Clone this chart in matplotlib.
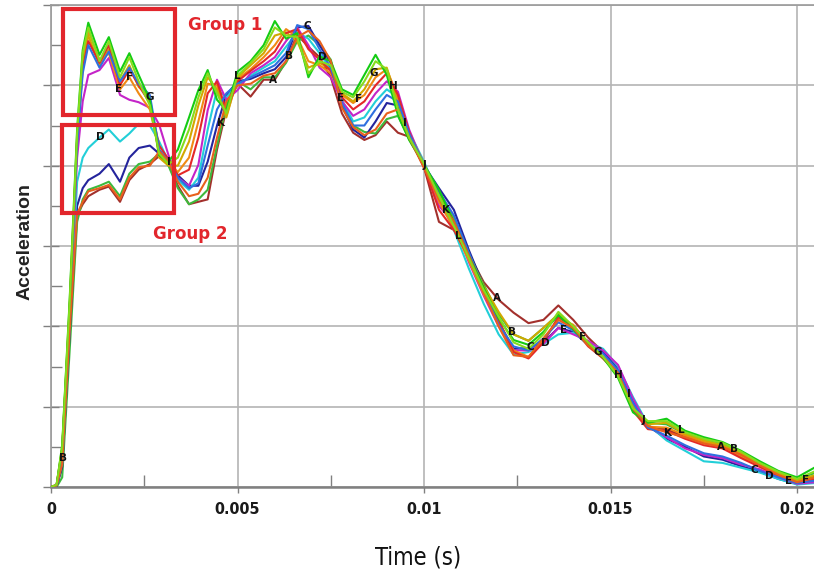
import matplotlib
matplotlib.use("Agg")
import matplotlib.pyplot as plt
import numpy as np
from matplotlib.patches import Rectangle
from matplotlib import font_manager

# ---------------------------------------------------------------- data
# sample times in milliseconds
time_ms = [0, 0.15, 0.3, 0.5, 0.7, 0.85, 1.0, 1.3, 1.55, 1.85, 2.1, 2.35, 2.65,
           2.9, 3.15, 3.4, 3.7, 3.95, 4.2, 4.45, 4.7,
           5.0, 5.35, 5.7, 6.0, 6.3, 6.6, 6.9, 7.2,
           7.5, 7.8, 8.1, 8.4, 8.7, 9.0, 9.3, 9.6,
           10.0, 10.4, 10.8, 11.2, 11.6,
           12.0, 12.4, 12.8, 13.2, 13.6, 14.0, 14.4, 14.8,
           15.2, 15.6, 16.0, 16.5, 17.0, 17.5, 18.0, 18.5, 19.0, 19.5, 20.0, 20.5]

accel_A = [0, 0.01, 0.25, 1.88, 3.38, 3.52, 3.62, 3.70, 3.74, 3.55, 3.82, 3.95, 4.02,
           4.12, 4.02, 3.75, 3.52, 3.55, 3.58, 4.20, 4.70,
           5.02, 4.86, 5.07, 5.07, 5.30, 5.63, 5.48, 5.35,
           5.10, 4.65, 4.41, 4.32, 4.38, 4.55, 4.41, 4.36,
           3.98, 3.30, 3.20, 2.90, 2.55,
           2.33, 2.17, 2.04, 2.08, 2.26, 2.08, 1.86, 1.68,
           1.46, 1.00, 0.74, 0.72, 0.62, 0.55, 0.50, 0.40, 0.28, 0.17, 0.08, 0.14]
accel_B = [0, 0.0, 0.12, 1.70, 3.30, 3.58, 3.70, 3.75, 3.80, 3.62, 3.90, 4.02, 4.05,
           4.15, 4.00, 3.72, 3.52, 3.58, 3.70, 4.25, 4.75,
           5.05, 4.95, 5.10, 5.10, 5.28, 5.55, 5.62, 5.50,
           5.32, 4.78, 4.50, 4.42, 4.40, 4.58, 4.62, 4.33,
           4.00, 3.62, 3.35, 2.92, 2.52,
           2.15, 1.90, 1.82, 1.98, 2.15, 2.00, 1.80, 1.62,
           1.40, 0.96, 0.80, 0.78, 0.66, 0.60, 0.54, 0.43, 0.29, 0.18, 0.09, 0.18]
accel_C = [0, 0.01, 0.25, 1.90, 3.50, 3.72, 3.82, 3.90, 4.02, 3.80, 4.10, 4.22, 4.25,
           4.15, 4.07, 3.88, 3.75, 3.75, 4.05, 4.50, 4.88,
           5.05, 5.08, 5.15, 5.20, 5.35, 5.72, 5.74, 5.50,
           5.28, 4.75, 4.45, 4.35, 4.55, 4.78, 4.75, 4.38,
           4.00, 3.72, 3.45, 2.95, 2.50,
           2.05, 1.72, 1.73, 1.80, 1.98, 1.93, 1.77, 1.68,
           1.48, 1.08, 0.76, 0.60, 0.50, 0.38, 0.34, 0.26, 0.19, 0.10, 0.04, 0.07]
accel_D = [0, 0.02, 0.30, 2.00, 3.80, 4.10, 4.22, 4.35, 4.45, 4.30, 4.40, 4.52, 4.50,
           4.30, 4.05, 3.82, 3.70, 3.85, 4.45, 4.95, 4.85,
           5.00, 5.12, 5.22, 5.30, 5.48, 5.66, 5.58, 5.40,
           5.20, 4.82, 4.55, 4.60, 4.80, 4.95, 4.85, 4.42,
           4.05, 3.60, 3.20, 2.72, 2.28,
           1.90, 1.65, 1.68, 1.78, 1.90, 1.92, 1.80, 1.72,
           1.50, 1.12, 0.78, 0.58, 0.45, 0.32, 0.30, 0.24, 0.18, 0.10, 0.03, 0.05]
accel_E = [0, 0.02, 0.40, 2.10, 4.10, 4.80, 5.13, 5.19, 5.34, 4.88, 4.82, 4.79, 4.72,
           4.51, 4.13, 3.85, 3.75, 4.01, 4.69, 5.07, 4.82,
           4.94, 5.15, 5.25, 5.35, 5.55, 5.72, 5.50, 5.22,
           5.10, 4.80, 4.62, 4.70, 4.90, 5.05, 4.92, 4.45,
           4.00, 3.50, 3.28, 2.80, 2.38,
           2.00, 1.70, 1.70, 1.78, 1.98, 1.90, 1.82, 1.70,
           1.52, 1.10, 0.76, 0.62, 0.48, 0.40, 0.36, 0.28, 0.22, 0.12, 0.04, 0.06]
accel_F = [0, 0.02, 0.45, 2.20, 4.30, 5.25, 5.68, 5.32, 5.40, 4.95, 5.10, 4.90, 4.70,
           4.20, 4.05, 3.92, 4.10, 4.55, 5.02, 5.00, 4.62,
           5.08, 5.20, 5.35, 5.50, 5.70, 5.60, 5.30, 5.25,
           5.15, 4.88, 4.78, 4.88, 5.10, 5.20, 4.85, 4.40,
           4.03, 3.55, 3.22, 2.82, 2.40,
           2.05, 1.70, 1.62, 1.82, 2.10, 2.02, 1.78, 1.60,
           1.42, 1.02, 0.75, 0.74, 0.64, 0.56, 0.50, 0.38, 0.26, 0.16, 0.06, 0.12]
accel_G = [0, 0.02, 0.48, 2.25, 4.35, 5.30, 5.62, 5.25, 5.45, 5.05, 5.25, 4.98, 4.85,
           4.10, 4.00, 4.00, 4.30, 4.75, 5.10, 4.95, 4.60,
           5.10, 5.25, 5.40, 5.62, 5.66, 5.55, 5.22, 5.28,
           5.20, 4.90, 4.80, 4.95, 5.20, 5.22, 4.78, 4.38,
           4.00, 3.66, 3.32, 2.90, 2.50,
           2.18, 1.90, 1.82, 1.98, 2.15, 2.00, 1.80, 1.62,
           1.40, 1.00, 0.78, 0.80, 0.66, 0.58, 0.52, 0.42, 0.28, 0.18, 0.08, 0.15]
accel_H = [0, 0.03, 0.47, 2.22, 4.32, 5.20, 5.55, 5.28, 5.50, 5.00, 5.20, 5.00, 4.78,
           4.25, 4.08, 3.88, 3.95, 4.35, 4.90, 5.05, 4.68,
           5.05, 5.18, 5.30, 5.42, 5.65, 5.70, 5.45, 5.32,
           5.18, 4.85, 4.70, 4.80, 5.00, 5.15, 4.88, 4.42,
           3.98, 3.45, 3.20, 2.86, 2.44,
           2.08, 1.68, 1.60, 1.80, 2.12, 1.98, 1.75, 1.60,
           1.40, 0.95, 0.72, 0.70, 0.60, 0.52, 0.48, 0.36, 0.25, 0.14, 0.05, 0.10]
accel_I = [0, 0.02, 0.45, 2.20, 4.25, 5.15, 5.50, 5.22, 5.42, 5.05, 5.22, 5.02, 4.88,
           4.20, 4.05, 3.85, 3.72, 3.78, 4.25, 4.70, 4.90,
           5.02, 5.10, 5.18, 5.25, 5.40, 5.75, 5.70, 5.45,
           5.22, 4.78, 4.50, 4.50, 4.70, 4.88, 4.80, 4.40,
           4.02, 3.68, 3.38, 2.92, 2.46,
           2.02, 1.75, 1.70, 1.85, 2.05, 1.95, 1.78, 1.66,
           1.45, 1.05, 0.74, 0.64, 0.52, 0.42, 0.38, 0.30, 0.20, 0.12, 0.05, 0.08]
accel_J = [0, 0.02, 0.52, 2.33, 4.45, 5.44, 5.78, 5.38, 5.60, 5.17, 5.40, 5.13, 4.82,
           4.13, 4.05, 4.20, 4.60, 4.94, 5.19, 4.82, 4.69,
           5.17, 5.30, 5.50, 5.80, 5.58, 5.65, 5.10, 5.36,
           5.30, 4.95, 4.88, 5.13, 5.38, 5.13, 4.63, 4.32,
           4.01, 3.70, 3.30, 2.88, 2.48,
           2.10, 1.83, 1.77, 1.93, 2.14, 1.96, 1.77, 1.61,
           1.36, 0.93, 0.80, 0.85, 0.70, 0.62, 0.56, 0.45, 0.32, 0.20, 0.12, 0.25]
accel_K = [0, 0.02, 0.28, 1.95, 3.40, 3.55, 3.68, 3.72, 3.76, 3.58, 3.85, 3.98, 4.00,
           4.18, 4.05, 3.80, 3.62, 3.65, 3.85, 4.35, 4.80,
           5.00, 5.02, 5.12, 5.15, 5.30, 5.60, 5.68, 5.55,
           5.30, 4.72, 4.48, 4.38, 4.45, 4.65, 4.70, 4.35,
           3.97, 3.58, 3.30, 2.88, 2.42,
           2.00, 1.64, 1.62, 1.85, 2.08, 1.98, 1.76, 1.62,
           1.42, 0.98, 0.76, 0.68, 0.62, 0.54, 0.50, 0.40, 0.27, 0.15, 0.06, 0.12]
accel_L = [0, 0.03, 0.50, 2.30, 4.40, 5.40, 5.72, 5.30, 5.55, 5.10, 5.35, 5.05, 4.75,
           4.15, 4.02, 4.10, 4.45, 4.85, 5.15, 4.90, 4.65,
           5.12, 5.28, 5.45, 5.72, 5.62, 5.60, 5.15, 5.30,
           5.25, 4.92, 4.85, 5.05, 5.30, 5.20, 4.70, 4.35,
           4.02, 3.62, 3.25, 2.85, 2.45,
           2.12, 1.80, 1.72, 1.90, 2.18, 2.00, 1.80, 1.62,
           1.38, 0.98, 0.82, 0.82, 0.68, 0.60, 0.55, 0.44, 0.30, 0.19, 0.10, 0.20]

curve_names = ["A", "B", "C", "D", "E", "F", "G", "H", "I", "J", "K", "L"]
curve_values = [accel_A, accel_B, accel_C, accel_D, accel_E, accel_F,
                accel_G, accel_H, accel_I, accel_J, accel_K, accel_L]
curve_colors = ["#a3302c", "#3cba3c", "#24249c", "#22cfd8", "#c424c8", "#f08a14",
                "#d2a800", "#e42828", "#2f6fe0", "#14cc14", "#e8601c", "#86dc1e"]

# curve letter markers placed along the traces (letter, time in ms)
marker_letters = ["B", "D", "E", "F", "G", "I", "J", "K", "L",
                  "A", "B", "C", "D", "E", "F", "G", "H", "I", "J", "K", "L",
                  "A", "B", "C", "D", "E", "F", "G", "H", "I", "J", "K", "L",
                  "A", "B", "C", "D", "E", "F"]
marker_times = [0.33, 1.32, 1.8, 2.1, 2.65, 3.15, 4.0, 4.55, 5.0,
                5.96, 6.39, 6.87, 7.28, 7.76, 8.24, 8.64, 9.18, 9.5, 10.0, 10.58, 10.93,
                11.95, 12.35, 12.86, 13.26, 13.74, 14.25, 14.66, 15.2, 15.49, 15.89, 16.54, 16.89,
                17.96, 18.31, 18.85, 19.25, 19.76, 20.24]

x_ticks = [0, 0.005, 0.01, 0.015, 0.02]
x_tick_labels = ["0", "0.005", "0.01", "0.015", "0.02"]
x_minor_ticks = [0.0025, 0.0075, 0.0125, 0.0175]

# ---------------------------------------------------------------- fonts
cond_path = font_manager.findfont(
    font_manager.FontProperties(family="DejaVu Sans", stretch="condensed", weight="bold"))
has_condensed = "Condensed" in cond_path
tick_size = 11.5 if has_condensed else 10.3
xlabel_size = 17 if has_condensed else 15

# ---------------------------------------------------------------- figure
fig = plt.figure(figsize=(8.14, 5.75), dpi=100)
ax = fig.add_axes([51 / 814, 88 / 575, 764 / 814, 482 / 575])

t_sec = np.array(time_ms) * 1e-3
for name, vals, col in zip(curve_names, curve_values, curve_colors):
    ax.plot(t_sec, vals, color=col, lw=1.5, zorder=3)

for letter, tm in zip(marker_letters, marker_times):
    idx = curve_names.index(letter)
    yv = np.interp(tm, time_ms, curve_values[idx])
    ax.text(tm * 1e-3, yv, letter, fontsize=7.5, fontweight="bold", color="#111111",
            ha="center", va="center", zorder=5)

# group boxes
box_color = "#e2262c"
ax.add_patch(Rectangle((0.32e-3, 4.63), 3.01e-3, 1.32, fill=False,
                       edgecolor=box_color, lw=3, zorder=6))
ax.add_patch(Rectangle((0.30e-3, 3.41), 3.0e-3, 1.10, fill=False,
                       edgecolor=box_color, lw=3, zorder=6))
ax.text(4.67e-3, 5.75, "Group 1", color=box_color, fontsize=12, fontweight="bold",
        ha="center", va="center", zorder=6)
ax.text(3.73e-3, 3.15, "Group 2", color=box_color, fontsize=12, fontweight="bold",
        ha="center", va="center", zorder=6)

# axes styling
ax.set_xlim(0, 0.02048)
ax.set_ylim(0, 6)
ax.set_xticks(x_ticks)
ax.set_xticklabels(x_tick_labels)
ax.set_xticks(x_minor_ticks, minor=True)
ax.set_yticks([0, 1, 2, 3, 4, 5, 6])
ax.set_yticklabels([])
ax.set_yticks([0.5, 1.5, 2.5, 3.5, 4.5, 5.5], minor=True)

for lab in ax.get_xticklabels():
    lab.set_fontweight("bold")
    lab.set_fontsize(tick_size)
    lab.set_fontstretch("condensed")
    lab.set_color("#1a1a1a")

grid_col = "#b4b4b4"
ax.grid(True, which="major", color=grid_col, lw=1.2)
ax.set_axisbelow(True)
ax.tick_params(axis="x", which="major", direction="out", length=4, width=1,
               color="#808080", pad=7)
ax.tick_params(axis="x", which="minor", direction="in", length=9, width=1,
               color="#808080")
ax.tick_params(axis="y", which="major", direction="inout", length=12, width=1,
               color="#808080")
ax.tick_params(axis="y", which="minor", direction="in", length=8, width=1,
               color="#808080")
for side in ("left", "top"):
    ax.spines[side].set_color("#9a9a9a")
    ax.spines[side].set_linewidth(1.2)
ax.spines["bottom"].set_color("#808080")
ax.spines["bottom"].set_linewidth(1.8)
ax.spines["right"].set_visible(False)

fig.text(418 / 814, 1 - 558 / 575, "Time (s)", fontsize=xlabel_size,
         fontstretch="condensed", ha="center", va="center", color="#111111")
fig.text(25 / 814, 1 - 242 / 575, "Acceleration", fontsize=14, rotation=90,
         family="Liberation Sans", fontweight="bold", ha="center", va="center",
         color="#222222")

fig.savefig("out.png", dpi=100)
